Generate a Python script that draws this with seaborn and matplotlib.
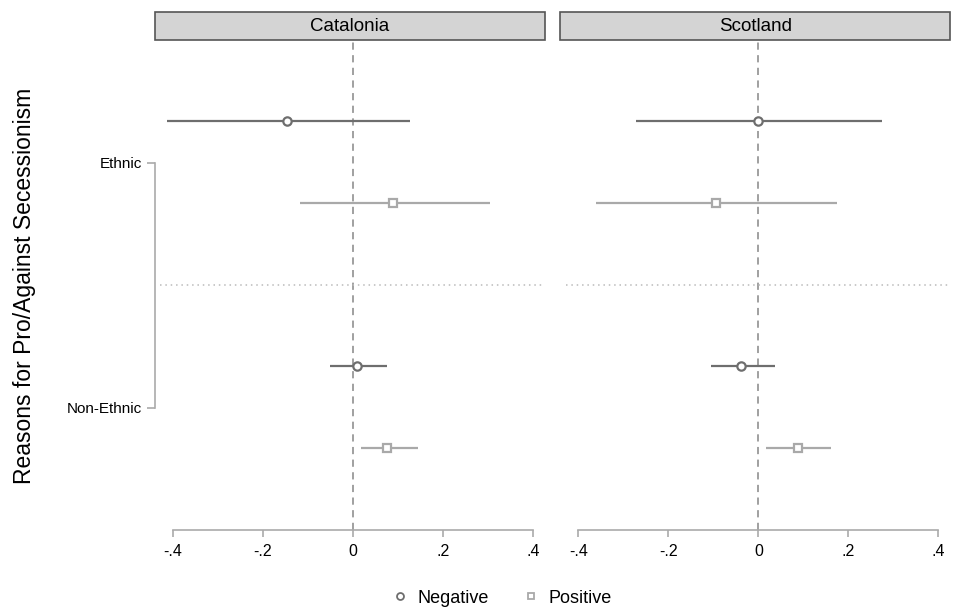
import numpy as np
import pandas as pd
import matplotlib.pyplot as plt
import seaborn as sns
from matplotlib.lines import Line2D
from matplotlib.patches import Rectangle

regions = ['Catalonia'] * 4 + ['Scotland'] * 4
reasons = ['Ethnic', 'Ethnic', 'Non-Ethnic', 'Non-Ethnic'] * 2
direction = ['Negative', 'Positive'] * 4
est = [-0.146, 0.090, 0.008, 0.076, 0.000, -0.094, -0.038, 0.087]
lo = [-0.413, -0.117, -0.052, 0.017, -0.272, -0.360, -0.106, 0.018]
hi = [0.128, 0.304, 0.075, 0.144, 0.275, 0.175, 0.038, 0.161]
reason_levels = ['Ethnic', 'Non-Ethnic']
xticks = [-0.4, -0.2, 0, 0.2, 0.4]
xticklabels = ['-.4', '-.2', '0', '.2', '.4']

df = pd.DataFrame({'region': regions, 'reason': reasons, 'direction': direction,
                   'est': est, 'lo': lo, 'hi': hi})

sns.set_style('white')
plt.rcParams['font.family'] = ['Liberation Sans', 'DejaVu Sans']
plt.rcParams['text.color'] = 'black'
plt.rcParams['xtick.labelcolor'] = 'black'
plt.rcParams['ytick.labelcolor'] = 'black'

styles = {'Negative': ('#6e6e6e', 'o', -0.17),
          'Positive': ('#a9a9a9', 's', 0.165)}


def coefplot(data, **kw):
    ax = plt.gca()
    ax.axvline(0, color='#999999', ls=(0, (4, 3)), lw=1.3, zorder=1)
    ax.axhline(0.5, xmin=0.013, color='#bbbbbb', ls=(0, (1, 2.5)), lw=1.1, zorder=1)
    for d, (col, mk, off) in styles.items():
        sub = data[data['direction'] == d]
        y = sub['reason'].map({r: i for i, r in enumerate(reason_levels)}) + off
        ax.hlines(y, sub['lo'], sub['hi'], color=col, lw=1.6, zorder=2)
        ax.plot(sub['est'], y, ls='none', marker=mk, mfc='white', mec=col,
                ms=6, mew=1.6, zorder=3)


g = sns.FacetGrid(df, col='region', sharex=True, sharey=True, height=5, aspect=0.8)
g.map_dataframe(coefplot)
g.figure.set_size_inches(9.56, 6.14)
g.figure.subplots_adjust(left=155 / 956, right=950 / 956, wspace=16 / 390,
                         top=1 - 40 / 614, bottom=1 - 530 / 614)
g.set_titles('')
g.set_axis_labels('', '')

for i, (ax, name) in enumerate(zip(g.axes.flat, ['Catalonia', 'Scotland'])):
    ax.set_xlim(-0.44, 0.426)
    ax.set_ylim(1.5, -0.5)
    ax.set_xticks(xticks)
    ax.set_xticklabels(xticklabels, fontsize=11.5)
    ax.spines['top'].set_visible(False)
    ax.spines['right'].set_visible(False)
    ax.spines['bottom'].set_bounds(-0.4, 0.4)
    ax.spines['bottom'].set_color('#aaaaaa')
    ax.spines['bottom'].set_linewidth(1.2)
    ax.tick_params(axis='x', direction='out', length=5, width=1.2, color='#aaaaaa',
                   bottom=True, pad=5)
    if i == 0:
        ax.set_yticks([0, 1])
        ax.set_yticklabels(reason_levels, fontsize=11)
        ax.spines['left'].set_bounds(0, 1)
        ax.spines['left'].set_color('#aaaaaa')
        ax.spines['left'].set_linewidth(1.2)
        ax.tick_params(axis='y', direction='out', length=6, width=1.2, color='#aaaaaa',
                       left=True, pad=3)
    else:
        ax.spines['left'].set_visible(False)
        ax.tick_params(axis='y', left=False, labelleft=False)
    strip = Rectangle((0, 1.0), 1, 28 / 490, transform=ax.transAxes, clip_on=False,
                      facecolor='#d4d4d4', edgecolor='#555555', lw=1.2)
    ax.add_patch(strip)
    ax.text(0.5, 1 + 14 / 490, name, transform=ax.transAxes, ha='center', va='center',
            fontsize=13.5)

g.figure.text(25 / 956, 0.534, 'Reasons for Pro/Against Secessionism', rotation=90,
              ha='center', va='center', fontsize=16.5)

handles = [Line2D([], [], ls='none', marker=mk, mfc='white', mec=col, ms=5, mew=1.3)
           for col, mk, off in styles.values()]
g.figure.legend(handles, list(styles.keys()), loc='center', bbox_to_anchor=(0.522, 0.026),
                ncol=2, frameon=False, fontsize=13, handletextpad=0.2, columnspacing=1.6,
                handlelength=1.5)

g.figure.savefig('out.png', dpi=100)
